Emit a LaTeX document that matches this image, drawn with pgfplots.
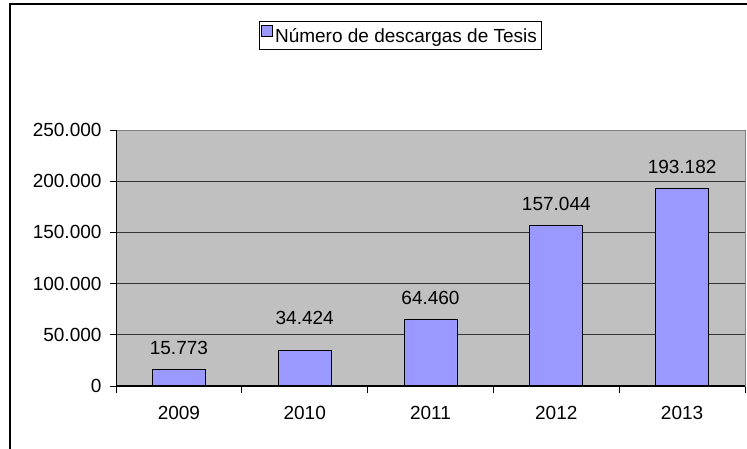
\documentclass[border=0pt]{standalone}
\usepackage{fontspec}
\setmainfont{Liberation Sans}
\usepackage{pgfplots}
\pgfplotsset{compat=1.18}
\definecolor{barblue}{HTML}{9999FF}
\definecolor{plotgray}{HTML}{C0C0C0}
\definecolor{rimgray}{HTML}{808080}
\newcommand{\chartfont}{\fontsize{19}{22}\selectfont}

\begin{document}
\begin{tikzpicture}[x=1pt,y=1pt]
\useasboundingbox (0,0) rectangle (747,448);
% outer frame (only left and top edge visible)
\draw[line width=2pt] (9.5,-5) -- (9.5,444) -- (752,444);
\begin{axis}[
  at={(116pt,62pt)}, anchor=south west, scale only axis,
  width=629pt, height=256pt,
  xmin=-0.5, xmax=4.5, ymin=0, ymax=250000,
  ybar, bar width=53pt,
  axis background/.style={fill=plotgray},
  axis line style={draw=rimgray, line width=1pt},
  ymajorgrids, grid style={draw=black!80, line width=0.8pt},
  xtick={0,1,2,3,4},
  xticklabels={2009,2010,2011,2012,2013},
  minor xtick={-0.5,0.5,1.5,2.5,3.5,4.5},
  major x tick style={draw=none},
  minor x tick style={draw=black, line width=1pt},
  ytick={0,50000,100000,150000,200000,250000},
  yticklabels={0,50.000,100.000,150.000,200.000,250.000},
  scaled y ticks=false,
  y tick style={draw=black, line width=1pt},
  tick align=outside, major tick length=6pt, minor tick length=7pt,
  xtick pos=bottom, ytick pos=left,
  tick label style={font=\chartfont},
  yticklabel style={xshift=-5pt},
  xticklabel style={yshift=-11pt},
  point meta=explicit symbolic,
  nodes near coords,
  nodes near coords style={font=\chartfont, anchor=south,
    yshift={(\coordindex==1)*11+11}},
  legend style={at={(0.4515,1.369)}, anchor=center, draw=black, fill=white,
    font=\chartfont, inner xsep=2pt, inner ysep=3pt,
    /tikz/every even column/.append style={column sep=2pt}},
  legend image code/.code={\draw[#1] (0pt,0.5pt) rectangle (11pt,11.5pt);},
]
\addplot[fill=barblue, draw=black, line width=1pt] coordinates {
  (0,15773) [15.773]
  (1,34424) [34.424]
  (2,64460) [64.460]
  (3,157044) [157.044]
  (4,193182) [193.182]
};
\addlegendentry{Número de descargas de Tesis}
\draw[black, line width=1.2pt] (rel axis cs:0,1) -- (rel axis cs:0,0) -- (rel axis cs:1,0);
\end{axis}
\end{tikzpicture}
\end{document}
